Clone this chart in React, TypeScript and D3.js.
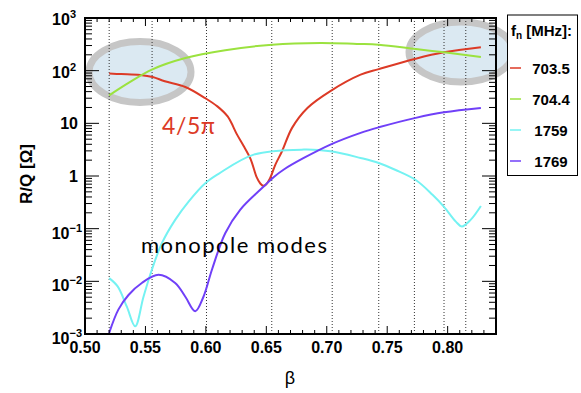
import React from "react";
import * as d3 from "d3";

// R/Q of the four modes vs beta
const beta703 = [0.52, 0.53, 0.5456, 0.556, 0.566, 0.583, 0.5995, 0.6095, 0.618, 0.6258, 0.631, 0.637, 0.642, 0.645, 0.6475, 0.65, 0.653, 0.6575, 0.663, 0.6713, 0.684, 0.703, 0.728, 0.743, 0.7736, 0.797, 0.8275];
const rq703 = [88, 86, 83, 76, 63, 49, 30, 21, 13.5, 6.1, 3.8, 2.1, 0.95, 0.72, 0.65, 0.7, 0.9, 1.65, 2.95, 8.2, 19.6, 41, 84, 107, 169, 223, 278];

const beta704 = [0.52, 0.536, 0.5553, 0.583, 0.616, 0.6548, 0.695, 0.725, 0.743, 0.7736, 0.797, 0.8275];
const rq704 = [34, 58.5, 105, 174, 244, 312, 336, 322, 312, 258, 223, 182];

const beta1759 = [0.52, 0.527, 0.5346, 0.5415, 0.5484, 0.5553, 0.5636, 0.5746, 0.5857, 0.5995, 0.6105, 0.6396, 0.681, 0.703, 0.728, 0.743, 0.757, 0.7736, 0.7875, 0.797, 0.8068, 0.8118, 0.819, 0.8275];
const rq1759 = [0.0115, 0.008, 0.0033, 0.0014, 0.0051, 0.0166, 0.053, 0.147, 0.327, 0.73, 1.1, 2.55, 3.17, 2.95, 2.2, 1.77, 1.3, 0.84, 0.44, 0.26, 0.136, 0.11, 0.147, 0.27];

const beta1769 = [0.52, 0.5276, 0.536, 0.547, 0.5608, 0.5746, 0.583, 0.5912, 0.598, 0.605, 0.616, 0.6285, 0.6478, 0.656, 0.6645, 0.681, 0.703, 0.728, 0.743, 0.7736, 0.797, 0.8275];
const rq1769 = [0.00105, 0.0029, 0.0055, 0.0093, 0.0133, 0.0093, 0.0051, 0.0027, 0.0051, 0.0166, 0.082, 0.23, 0.63, 0.95, 1.33, 2.2, 3.95, 6.6, 8.4, 12.7, 16.2, 19.6];

const modeNames = ["703.5", "704.4", "1759", "1769"];
const modeColors = ["#dc3a26", "#9be23f", "#74f2f2", "#7040f8"];

// dotted verticals (cell betas)
const cellBetas = [0.52, 0.5555, 0.6005, 0.6545, 0.7045, 0.743, 0.7725, 0.797, 0.815];

const xTickLabels = ["0.50", "0.55", "0.60", "0.65", "0.70", "0.75", "0.80"];
const yExponents = [-3, -2, -1, 0, 1, 2, 3];

export default function App() {
  const W = 581, H = 393;
  const L = 85, R = 496, T = 18, B = 334;

  const x = d3.scaleLinear().domain([0.5, 0.84]).range([L, R]);
  const y = d3.scaleLog().domain([1e-3, 1e3]).range([B, T]);

  const series = [
    [beta703, rq703],
    [beta704, rq704],
    [beta1759, rq1759],
    [beta1769, rq1769],
  ];

  const line = d3.line<[number, number]>()
    .x(d => x(d[0]))
    .y(d => y(d[1]))
    .curve(d3.curveCatmullRom.alpha(0.5));

  // ticks
  const xMinor = d3.range(50, 85).map(v => v / 100);
  const yMinor: number[] = [];
  for (let e = -3; e < 3; e++) for (let m = 2; m <= 9; m++) yMinor.push(m * Math.pow(10, e));

  const ticks: JSX.Element[] = [];
  xMinor.forEach((v, i) => {
    const len = i % 5 === 0 ? 8 : 4;
    ticks.push(<line key={"xb" + i} x1={x(v)} x2={x(v)} y1={B} y2={B - len} stroke="#000" strokeWidth={1} />);
    ticks.push(<line key={"xt" + i} x1={x(v)} x2={x(v)} y1={T} y2={T + len} stroke="#000" strokeWidth={1} />);
  });
  yExponents.forEach(e => {
    const v = Math.pow(10, e);
    ticks.push(<line key={"yl" + e} x1={L} x2={L + 14} y1={y(v)} y2={y(v)} stroke="#000" strokeWidth={1} />);
    ticks.push(<line key={"yr" + e} x1={R} x2={R - 14} y1={y(v)} y2={y(v)} stroke="#000" strokeWidth={1} />);
  });
  yMinor.forEach((v, i) => {
    ticks.push(<line key={"ylm" + i} x1={L} x2={L + 7} y1={y(v)} y2={y(v)} stroke="#000" strokeWidth={1} />);
    ticks.push(<line key={"yrm" + i} x1={R} x2={R - 7} y1={y(v)} y2={y(v)} stroke="#000" strokeWidth={1} />);
  });

  const font = "Liberation Sans, Arial, Helvetica, sans-serif";

  return (
    <svg width={W} height={H} style={{ position: "absolute", left: 0, top: 0, background: "#fff" }}>
      {/* highlight ellipses */}
      <ellipse cx={140} cy={72} rx={51} ry={30.5} fill="#dbe9f2" stroke="#c6c6c6" strokeWidth={7} />
      <ellipse cx={461} cy={52} rx={52} ry={30} fill="#dbe9f2" stroke="#c6c6c6" strokeWidth={7} />

      {/* dotted cell lines */}
      {cellBetas.map((b, i) => (
        <line key={"c" + i} x1={x(b)} x2={x(b)} y1={T} y2={B} stroke="#333" strokeWidth={1} strokeDasharray="1,2" />
      ))}

      {/* curves */}
      {series.map(([bs, vs], i) => (
        <path key={"s" + i} d={line(bs.map((b, j) => [b, vs[j]]) as [number, number][]) || ""}
          fill="none" stroke={modeColors[i]} strokeWidth={2} />
      ))}

      {/* frame + ticks */}
      {ticks}
      <rect x={L} y={T} width={R - L} height={B - T} fill="none" stroke="#000" strokeWidth={2} />

      {/* x tick labels */}
      {xTickLabels.map(t => (
        <text key={t} x={x(+t)} y={353} textAnchor="middle" fontFamily={font} fontWeight="bold" fontSize={16}>{t}</text>
      ))}

      {/* y tick labels */}
      {yExponents.map(e => {
        const yy = y(Math.pow(10, e));
        if (e === 0) return <text key={"yt" + e} x={78} y={yy + 6} textAnchor="end" fontFamily={font} fontWeight="bold" fontSize={16}>1</text>;
        if (e === 1) return <text key={"yt" + e} x={78} y={yy + 6} textAnchor="end" fontFamily={font} fontWeight="bold" fontSize={16}>10</text>;
        const dy = e < 0 ? 10 : 7;
        return (
          <text key={"yt" + e} x={e < 0 ? 82 : 76} y={yy + dy} textAnchor="end" fontFamily={font} fontWeight="bold" fontSize={16}>
            10<tspan fontSize={11} dy={-7}>{e < 0 ? "\u2212" + (-e) : e}</tspan>
          </text>
        );
      })}

      {/* axis titles */}
      <text transform="translate(32,174) rotate(-90)" textAnchor="middle" fontFamily={font} fontWeight="bold" fontSize={17}>R/Q [Ω]</text>
      <text x={290} y={384} textAnchor="middle" fontFamily={font} fontSize={18}>β</text>

      {/* annotations */}
      <text x={162} y={134} fontFamily="Lato, Open Sans, sans-serif" fontSize={23} fill="#dc3a26" textLength={53}>4/5π</text>
      <text x={141} y={252.5} fontFamily="Lato, Open Sans, sans-serif" fontSize={22} fill="#000" textLength={186}>monopole modes</text>

      {/* legend */}
      <rect x={507.5} y={15} width={70} height={160.5} fill="#fff" stroke="#000" strokeWidth={1} />
      <text x={511} y={36} fontFamily={font} fontWeight="bold" fontSize={15}>
        f<tspan fontSize={10} dy={3}>n</tspan><tspan dy={-3}> [MHz]:</tspan>
      </text>
      {modeNames.map((n, i) => {
        const yy = 68 + 31 * i;
        return (
          <g key={n}>
            <line x1={510} x2={521} y1={yy} y2={yy} stroke={modeColors[i]} strokeWidth={1.5} />
            <text x={551} y={yy + 5.5} textAnchor="middle" fontFamily={font} fontWeight="bold" fontSize={15}>{n}</text>
          </g>
        );
      })}
    </svg>
  );
}
